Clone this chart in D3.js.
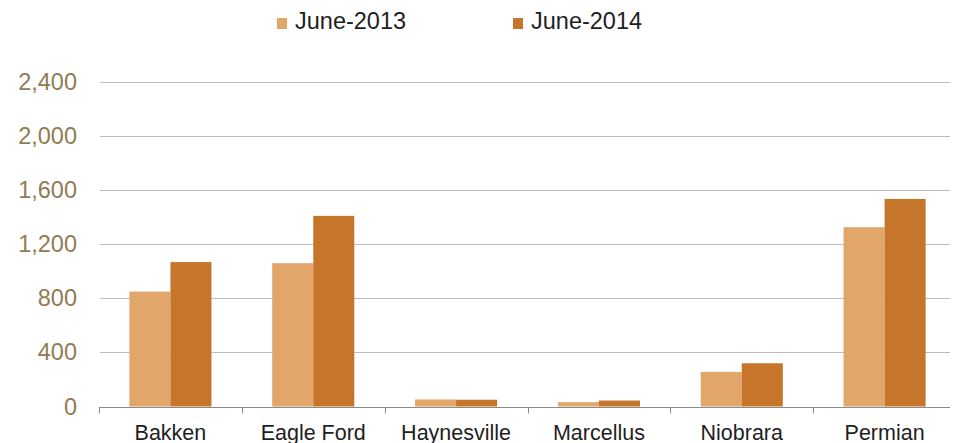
<!DOCTYPE html>
<html>
<head>
<meta charset="utf-8">
<script src="https://cdn.jsdelivr.net/npm/d3@7"></script>
<style>
  body { margin: 0; background: #fff; }
  text { font-family: "Liberation Sans", Arial, sans-serif; }
  .grid line { stroke: #bcbcbc; stroke-width: 1; }
  .y.axis text { fill: #8f7c52; font-size: 23.5px; }
  .x.axis text { fill: #1e1e1e; font-size: 21.5px; }
  .legend text { fill: #1e1e1e; font-size: 23.5px; }
</style>
</head>
<body>
<div id="chart"></div>
<script>
// data
var regions = ["Bakken", "Eagle Ford", "Haynesville", "Marcellus", "Niobrara", "Permian"],
    seriesNames = ["June-2013", "June-2014"],
    june2013 = [850, 1060, 52, 32, 256, 1326],
    june2014 = [1068, 1410, 50, 44, 320, 1535],
    yTicks = [0, 400, 800, 1200, 1600, 2000, 2400];

var width = 956,
    height = 443,
    margin = {top: 82, bottom: 36, left: 99, right: 0},
    colors = ["#e2a66a", "#c6762a"];

var svg = d3.select("#chart").append("svg")
  .attr("width", width)
  .attr("height", height);

var x = d3.scaleBand()
  .domain(regions)
  .range([margin.left, width - margin.right])
  .paddingInner(0)
  .paddingOuter(0);

var x1 = d3.scaleBand()
  .domain(seriesNames)
  .range([0, x.bandwidth()])
  .paddingOuter(0.74)
  .paddingInner(0);

var y = d3.scaleLinear()
  .domain([0, 2400])
  .range([height - margin.bottom - 0.5, margin.top]);

// gridlines
svg.append("g")
  .attr("class", "grid")
  .selectAll("line")
  .data(yTicks.slice(1))
  .enter().append("line")
  .attr("x1", margin.left + 1)
  .attr("x2", width - 6)
  .attr("y1", function(d) { return Math.round(y(d)) + 0.5; })
  .attr("y2", function(d) { return Math.round(y(d)) + 0.5; });

// y axis labels
var yAxis = d3.axisLeft(y)
  .tickValues(yTicks)
  .tickSize(0)
  .tickPadding(22)
  .tickFormat(d3.format(","));

svg.append("g")
  .attr("class", "y axis")
  .attr("transform", "translate(" + margin.left + ",0)")
  .call(yAxis)
  .call(function(g) { g.select(".domain").remove(); });

// bars
var rows = regions.map(function(r, i) {
  return {region: r, values: [june2013[i], june2014[i]]};
});

var groups = svg.append("g").selectAll("g")
  .data(rows)
  .enter().append("g")
  .attr("transform", function(d) { return "translate(" + x(d.region) + ",0)"; });

groups.selectAll("rect")
  .data(function(d) {
    return d.values.map(function(v, j) { return {key: seriesNames[j], value: v, j: j}; });
  })
  .enter().append("rect")
  .attr("x", function(d) { return x1(d.key); })
  .attr("width", x1.bandwidth())
  .attr("y", function(d) { return y(d.value); })
  .attr("height", function(d) { return y(0) - y(d.value); })
  .attr("fill", function(d) { return colors[d.j]; });

// x axis with ticks between categories
var xAxisG = svg.append("g")
  .attr("class", "x axis")
  .attr("transform", "translate(0," + (Math.round(y(0)) + 0.5) + ")");

xAxisG.append("line")
  .attr("x1", margin.left)
  .attr("x2", width - 6)
  .attr("stroke", "#8a8a8a");

xAxisG.selectAll(".tk")
  .data(regions)
  .enter().append("line")
  .attr("class", "tk")
  .attr("x1", function(d) { return Math.round(x(d)) + 0.5; })
  .attr("x2", function(d) { return Math.round(x(d)) + 0.5; })
  .attr("y1", 0)
  .attr("y2", 6)
  .attr("stroke", "#8a8a8a");

xAxisG.selectAll(".lbl")
  .data(regions)
  .enter().append("text")
  .attr("class", "lbl")
  .attr("x", function(d) { return x(d) + x.bandwidth() / 2; })
  .attr("y", 32)
  .attr("text-anchor", "middle")
  .text(function(d) { return d; });

// legend
var legend = svg.append("g").attr("class", "legend");
var legendX = [277, 513];

seriesNames.forEach(function(name, i) {
  var g = legend.append("g").attr("transform", "translate(" + legendX[i] + ",0)");
  g.append("rect")
    .attr("y", 18)
    .attr("width", 10)
    .attr("height", 11)
    .attr("fill", colors[i]);
  g.append("text")
    .attr("x", 18)
    .attr("y", 29)
    .text(name);
});
</script>
</body>
</html>
